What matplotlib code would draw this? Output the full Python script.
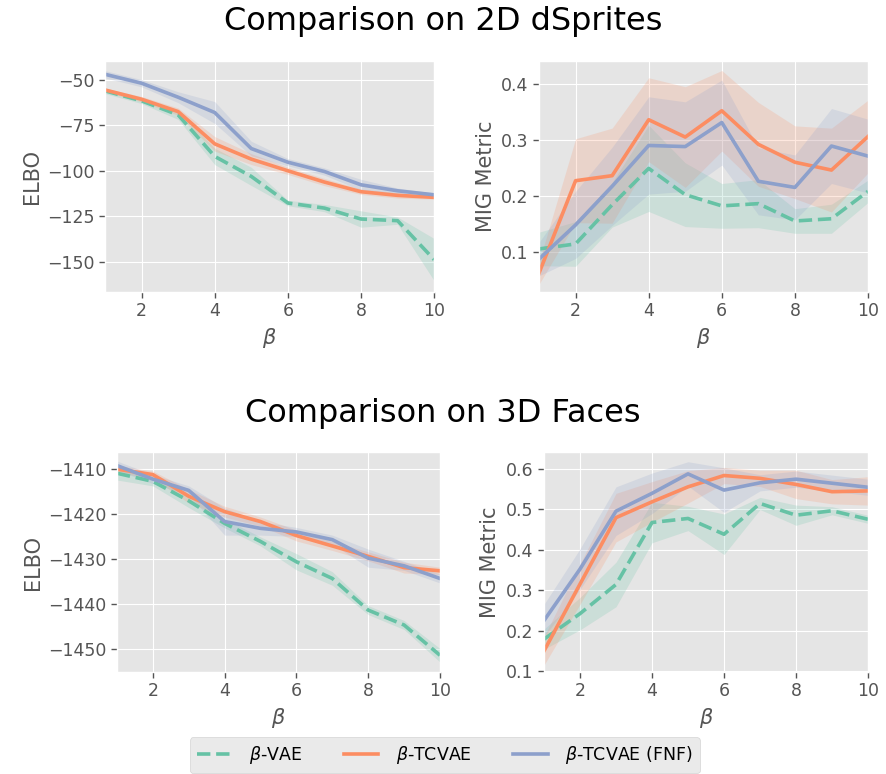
import matplotlib
matplotlib.use("Agg")
import matplotlib.pyplot as plt
import numpy as np

plt.style.use("ggplot")

beta = [1, 2, 3, 4, 5, 6, 7, 8, 9, 10]
labels = [r"$\beta$-VAE", r"$\beta$-TCVAE", r"$\beta$-TCVAE (FNF)"]
colors = ["#66c2a5", "#fc8d62", "#8da0cb"]
styles = ["--", "-", "-"]

# 2D dSprites: ELBO (mean, spread)
ds_elbo_vae = [-56.0, -61.5, -69.2, -92.0, -103.0, -117.6, -120.4, -126.4, -127.3, -148.7]
ds_elbo_vae_sd = [1.5, 1.5, 2.5, 4.5, 5.0, 1.5, 2.0, 4.5, 2.0, 11.6]
ds_elbo_tc = [-55.5, -60.6, -67.4, -85.1, -93.5, -99.9, -106.1, -111.4, -113.4, -114.5]
ds_elbo_tc_sd = [1.0, 1.5, 2.0, 4.0, 3.0, 2.0, 2.0, 1.5, 1.5, 1.0]
ds_elbo_fnf = [-46.9, -51.8, -59.5, -67.9, -87.7, -95.2, -100.3, -107.6, -110.9, -113.1]
ds_elbo_fnf_sd = [2.0, 2.0, 3.0, 6.0, 4.0, 2.0, 2.0, 3.0, 1.5, 1.0]

# 2D dSprites: MIG
ds_mig_vae = [0.105, 0.114, 0.184, 0.249, 0.202, 0.182, 0.186, 0.155, 0.159, 0.208]
ds_mig_vae_sd = [0.030, 0.040, 0.040, 0.077, 0.057, 0.040, 0.043, 0.022, 0.026, 0.020]
ds_mig_tc = [0.062, 0.227, 0.236, 0.336, 0.305, 0.352, 0.292, 0.260, 0.246, 0.306]
ds_mig_tc_sd = [0.020, 0.075, 0.085, 0.075, 0.090, 0.072, 0.075, 0.065, 0.075, 0.065]
ds_mig_fnf = [0.087, 0.148, 0.217, 0.290, 0.288, 0.331, 0.226, 0.215, 0.289, 0.271]
ds_mig_fnf_sd = [0.030, 0.060, 0.070, 0.087, 0.080, 0.076, 0.060, 0.058, 0.067, 0.066]

# 3D Faces: ELBO
fc_elbo_vae = [-1411.0, -1412.8, -1417.1, -1422.1, -1426.1, -1430.6, -1434.3, -1441.3, -1444.6, -1451.3]
fc_elbo_vae_sd = [1.5, 1.0, 1.5, 1.0, 1.0, 1.8, 1.5, 1.0, 1.0, 1.5]
fc_elbo_tc = [-1410.1, -1411.3, -1416.1, -1419.5, -1421.7, -1424.8, -1427.1, -1429.4, -1431.9, -1432.6]
fc_elbo_tc_sd = [0.8, 0.8, 1.5, 1.2, 1.0, 1.2, 1.0, 1.0, 1.2, 0.8]
fc_elbo_fnf = [-1409.3, -1412.3, -1414.8, -1421.7, -1423.2, -1424.0, -1425.7, -1429.8, -1431.5, -1434.3]
fc_elbo_fnf_sd = [1.0, 1.0, 1.0, 3.0, 1.5, 1.0, 1.0, 2.0, 1.0, 1.0]

# 3D Faces: MIG
fc_mig_vae = [0.179, 0.242, 0.314, 0.467, 0.477, 0.438, 0.514, 0.485, 0.496, 0.475]
fc_mig_vae_sd = [0.025, 0.040, 0.055, 0.050, 0.030, 0.050, 0.015, 0.025, 0.010, 0.010]
fc_mig_tc = [0.150, 0.315, 0.479, 0.518, 0.555, 0.583, 0.576, 0.561, 0.543, 0.545]
fc_mig_tc_sd = [0.035, 0.050, 0.060, 0.050, 0.040, 0.020, 0.020, 0.035, 0.030, 0.035]
fc_mig_fnf = [0.225, 0.352, 0.495, 0.539, 0.587, 0.547, 0.565, 0.574, 0.564, 0.554]
fc_mig_fnf_sd = [0.040, 0.050, 0.060, 0.050, 0.030, 0.055, 0.020, 0.020, 0.020, 0.020]

fig = plt.figure(figsize=(8.86, 7.74), dpi=100)

panels = [
    ([0.1185, 0.6227, 0.3715, 0.2985], "ELBO",
     [(ds_elbo_vae, ds_elbo_vae_sd), (ds_elbo_tc, ds_elbo_tc_sd), (ds_elbo_fnf, ds_elbo_fnf_sd)],
     (-166.5, -39.6), [-150, -125, -100, -75, -50]),
    ([0.6084, 0.6227, 0.3713, 0.2985], "MIG Metric",
     [(ds_mig_vae, ds_mig_vae_sd), (ds_mig_tc, ds_mig_tc_sd), (ds_mig_fnf, ds_mig_fnf_sd)],
     (0.028, 0.441), [0.1, 0.2, 0.3, 0.4]),
    ([0.132, 0.1318, 0.3646, 0.2842], "ELBO",
     [(fc_elbo_vae, fc_elbo_vae_sd), (fc_elbo_tc, fc_elbo_tc_sd), (fc_elbo_fnf, fc_elbo_fnf_sd)],
     (-1455.0, -1406.3), [-1450, -1440, -1430, -1420, -1410]),
    ([0.614, 0.1318, 0.3657, 0.2842], "MIG Metric",
     [(fc_mig_vae, fc_mig_vae_sd), (fc_mig_tc, fc_mig_tc_sd), (fc_mig_fnf, fc_mig_fnf_sd)],
     (0.098, 0.641), [0.1, 0.2, 0.3, 0.4, 0.5, 0.6]),
]

x = np.array(beta)
handles = []
for rect, ylabel, series, ylim, yticks in panels:
    ax = fig.add_axes(rect)
    handles = []
    for (mean, sd), c, ls, lab in zip(series, colors, styles, labels):
        m = np.array(mean)
        s = np.array(sd)
        ax.fill_between(x, m - s, m + s, color=c, alpha=0.2, linewidth=0)
        h, = ax.plot(x, m, color=c, ls=ls, lw=2.6, label=lab)
        handles.append(h)
    ax.set_xlim(1, 10)
    ax.set_ylim(*ylim)
    ax.set_xticks([2, 4, 6, 8, 10])
    ax.set_yticks(yticks)
    ax.tick_params(labelsize=12.5, length=4, width=1, color="#555555")
    ax.set_xlabel(r"$\beta$", fontsize=15)
    ax.set_ylabel(ylabel, fontsize=15)

fig.text(0.5, 0.9716, "Comparison on 2D dSprites", ha="center", va="center", fontsize=23)
fig.text(0.5, 0.4664, "Comparison on 3D Faces", ha="center", va="center", fontsize=23)

fig.legend(handles, labels, loc="center", bbox_to_anchor=(0.502, 0.0245), ncol=3,
           fontsize=12.5, handlelength=2.0, columnspacing=2.4, handletextpad=1.0,
           borderpad=0.4, borderaxespad=0.2)

fig.savefig("out.png", dpi=100)
